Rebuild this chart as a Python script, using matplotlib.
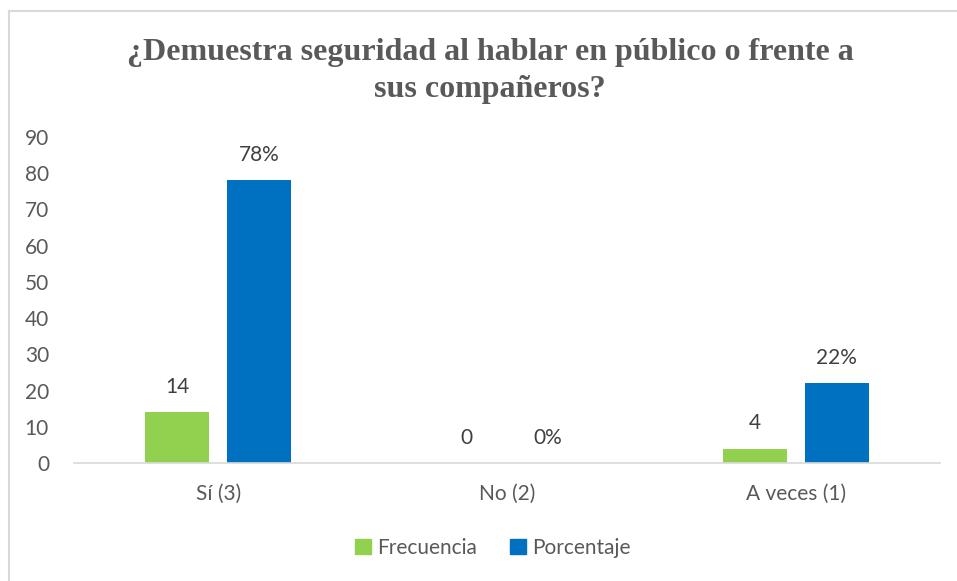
import matplotlib
matplotlib.use("Agg")
import matplotlib.pyplot as plt
import numpy as np
from matplotlib.lines import Line2D
from matplotlib.patches import Patch

categories = ["Sí (3)", "No (2)", "A veces (1)"]
frecuencia = [14, 0, 4]
porcentaje = [78, 0, 22]
yticks = [0, 10, 20, 30, 40, 50, 60, 70, 80, 90]
title = "¿Demuestra seguridad al hablar en público o frente a\nsus compañeros?"

green = "#92D050"
blue = "#0070C0"
txt = "#595959"
font = ["Lato", "DejaVu Sans"]
fs = 15

W, H = 957, 581
fig = plt.figure(figsize=(W / 100, H / 100), dpi=100)
fig.patch.set_facecolor("white")

# outer border (top and left visible)
fig.add_artist(Line2D([8.5 / W, 1], [1 - 10.5 / H, 1 - 10.5 / H], color="#D9D9D9", lw=1.5, transform=fig.transFigure))
fig.add_artist(Line2D([8.5 / W, 8.5 / W], [0, 1 - 10.5 / H], color="#D9D9D9", lw=1.5, transform=fig.transFigure))

left, right = 74, 940
bottom, top = 463, 137
ax = fig.add_axes([left / W, 1 - bottom / H, (right - left) / W, (bottom - top) / H])

x = np.arange(len(categories))
bw = 0.222
off = 0.142
ax.bar(x - off, frecuencia, bw, color=green, label="Frecuencia")
ax.bar(x + off, porcentaje, bw, color=blue, label="Porcentaje")

for xi, v in zip(x, frecuencia):
    ax.annotate(f"{v}", (xi - off, v), xytext=(0, 11), textcoords="offset points",
                ha="center", va="bottom", fontsize=fs, color="#404040", family=font)
for xi, v in zip(x, porcentaje):
    ax.annotate(f"{v}%", (xi + off, v), xytext=(0, 11), textcoords="offset points",
                ha="center", va="bottom", fontsize=fs, color="#404040", family=font)

ax.set_xlim(-0.5, len(categories) - 0.5)
ax.set_ylim(0, 90)
ax.set_yticks(yticks)
ax.set_yticklabels([str(t) for t in yticks], family=font, fontsize=fs, color=txt)
ax.set_xticks(x)
ax.set_xticklabels(categories, family=font, fontsize=fs, color=txt)
ax.tick_params(axis="both", length=0)
ax.tick_params(axis="y", pad=18)
ax.tick_params(axis="x", pad=15)
for s in ["top", "right", "left"]:
    ax.spines[s].set_visible(False)
ax.spines["bottom"].set_color("#D9D9D9")
ax.spines["bottom"].set_linewidth(1.2)

fig.text(490 / W, 1 - 71 / H, title, ha="center", va="center", fontsize=23,
         fontweight="bold", color=txt, family=["Liberation Serif", "DejaVu Serif"],
         linespacing=1.4)

handles = [Patch(color=green, label="Frecuencia"), Patch(color=blue, label="Porcentaje")]
leg = fig.legend(handles=handles, loc="center", bbox_to_anchor=(493 / W, 1 - 548 / H),
                 ncol=2, frameon=False, prop={"family": font, "size": fs},
                 handlelength=0.75, handleheight=0.75, handletextpad=0.3, columnspacing=1.6)
for t in leg.get_texts():
    t.set_color(txt)

fig.savefig("out.png", dpi=100, facecolor="white")
